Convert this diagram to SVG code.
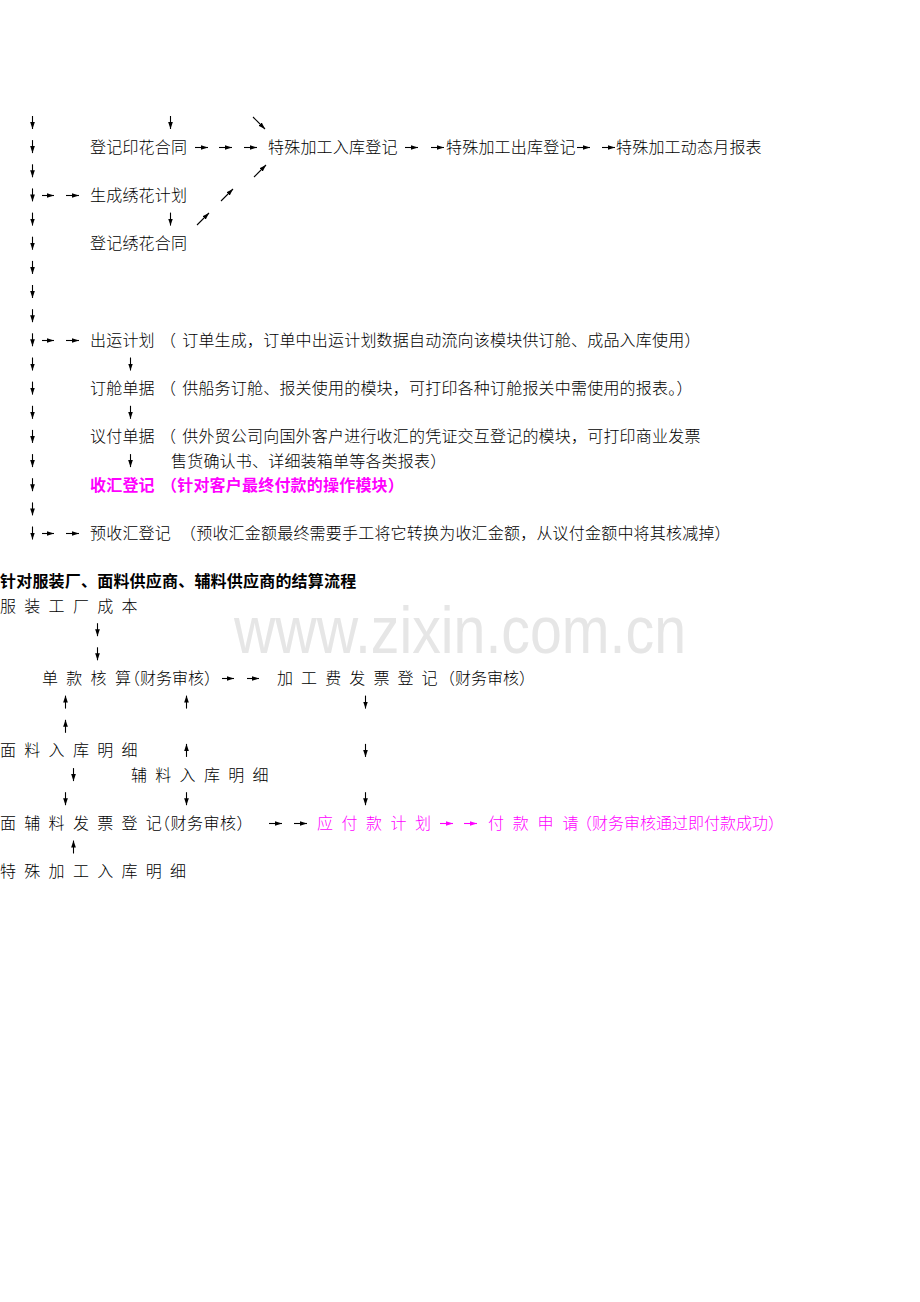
<svg xmlns="http://www.w3.org/2000/svg" width="920" height="1302" viewBox="0 0 920 1302">
<defs>
<marker id="a" viewBox="0 0 8 6" refX="8" refY="3" markerWidth="7" markerHeight="5.25" markerUnits="userSpaceOnUse" orient="auto"><path d="M0,0.3 L8,3 L0,5.7 z" fill="#000"/></marker>
<marker id="am" viewBox="0 0 8 6" refX="8" refY="3" markerWidth="7" markerHeight="5.25" markerUnits="userSpaceOnUse" orient="auto"><path d="M0,0.3 L8,3 L0,5.7 z" fill="#ff00ff"/></marker>
</defs>
<style>
text{font-family:"Noto Sans CJK SC","Noto Sans CJK TC",sans-serif;font-size:16px;fill:#000;font-weight:300}
.t{letter-spacing:0.2px}
.m{fill:#ff00ff}
.b{font-weight:bold}
.wm{font-family:"Liberation Sans",Arial,sans-serif;font-size:66px;fill:#e6e6e6;font-weight:normal}
.ar{stroke:#000;stroke-width:1.1;fill:none;marker-end:url(#a)}
.arm{stroke:#ff00ff;stroke-width:1.1;fill:none;marker-end:url(#am)}
</style>
<rect width="920" height="1302" fill="#fff"/>
<text class="wm" x="234" y="653" textLength="452" lengthAdjust="spacingAndGlyphs">www.zixin.com.cn</text>

<g id="connectors">
<path class="ar" d="M32.5,116V129"/>
<path class="ar" d="M32.5,140.1V153.1"/>
<path class="ar" d="M32.5,164.3V177.3"/>
<path class="ar" d="M32.5,188.4V201.4"/>
<path class="ar" d="M32.5,212.6V225.6"/>
<path class="ar" d="M32.5,236.7V249.7"/>
<path class="ar" d="M32.5,260.9V273.9"/>
<path class="ar" d="M32.5,285V298"/>
<path class="ar" d="M32.5,309.2V322.2"/>
<path class="ar" d="M32.5,333.3V346.3"/>
<path class="ar" d="M32.5,357.5V370.5"/>
<path class="ar" d="M32.5,381.6V394.6"/>
<path class="ar" d="M32.5,405.8V418.8"/>
<path class="ar" d="M32.5,429.9V442.9"/>
<path class="ar" d="M32.5,454.1V467.1"/>
<path class="ar" d="M32.5,478.2V491.2"/>
<path class="ar" d="M32.5,502.4V515.4"/>
<path class="ar" d="M32.5,526.5V539.5"/>
<path class="ar" d="M170.5,116V129"/>
<path class="ar" d="M170.5,212.6V225.6"/>
<path class="ar" d="M130.5,357.5V370.5"/>
<path class="ar" d="M130.5,405.8V418.8"/>
<path class="ar" d="M130.5,454.1V467.1"/>
<path class="ar" d="M253,117L265,129"/>
<path class="ar" d="M195,147.5H208"/>
<path class="ar" d="M219,147.5H232"/>
<path class="ar" d="M244,147.5H257"/>
<path class="ar" d="M405,147.5H418"/>
<path class="ar" d="M431,147.5H444"/>
<path class="ar" d="M577,147.5H590"/>
<path class="ar" d="M602,147.5H615"/>
<path class="ar" d="M254,177L266,165"/>
<path class="ar" d="M42,195.5H54"/>
<path class="ar" d="M66,195.5H79"/>
<path class="ar" d="M221,201L233,189"/>
<path class="ar" d="M197,225L209,213"/>
<path class="ar" d="M42,340.5H54"/>
<path class="ar" d="M66,340.5H79"/>
<path class="ar" d="M42,533.5H54"/>
<path class="ar" d="M66,533.5H79"/>
<path class="ar" d="M97.5,623.2V636.2"/>
<path class="ar" d="M97.5,647.3V660.3"/>
<path class="ar" d="M222,678.5H234"/>
<path class="ar" d="M247,678.5H259"/>
<path class="ar" d="M65.5,708.6V695.6"/>
<path class="ar" d="M186.5,708.6V695.6"/>
<path class="ar" d="M365.5,695.6V708.6"/>
<path class="ar" d="M65.5,732.8V719.8"/>
<path class="ar" d="M186.5,756.9V743.9"/>
<path class="ar" d="M365.5,743.9V756.9"/>
<path class="ar" d="M73.5,768.1V781.1"/>
<path class="ar" d="M65.5,792.2V805.2"/>
<path class="ar" d="M186.5,792.2V805.2"/>
<path class="ar" d="M365.5,792.2V805.2"/>
<path class="ar" d="M269,823.5H282"/>
<path class="ar" d="M294,823.5H307"/>
<path class="arm" d="M440,823.5H453"/>
<path class="arm" d="M464,823.5H477"/>
<path class="ar" d="M73.5,853.5V840.5"/>
</g>

<g id="n-yinhua-hetong"><text class="t" x="90" y="152.6">登记印花合同</text></g>
<g id="n-rukudengji"><text class="t" x="268" y="152.6">特殊加工入库登记</text></g>
<g id="n-chukudengji"><text class="t" x="446" y="152.6">特殊加工出库登记</text></g>
<g id="n-yuebaobiao"><text class="t" x="616" y="152.6">特殊加工动态月报表</text></g>
<g id="n-xiuhua-jihua"><text class="t" x="90" y="200.9">生成绣花计划</text></g>
<g id="n-xiuhua-hetong"><text class="t" x="90" y="249.2">登记绣花合同</text></g>
<g id="n-chuyun"><text class="t" x="90" y="345.8">出运计划</text><text class="t" x="160 182.2" y="345.8">（订单生成，订单中出运计划数据自动流向该模块供订舱、成品入库使用）</text></g>
<g id="n-dingcang"><text class="t" x="90" y="394.1">订舱单据</text><text class="t" x="160 182.2" y="394.1">（供船务订舱、报关使用的模块，可打印各种订舱报关中需使用的报表。）</text></g>
<g id="n-yifu"><text class="t" x="90" y="442.4">议付单据</text><text class="t" x="160 182.2" y="442.4">（供外贸公司向国外客户进行收汇的凭证交互登记的模块，可打印商业发票</text><text class="t" x="171" y="466.6">售货确认书、详细装箱单等各类报表）</text></g>
<g id="n-shouhui"><text class="t m b" x="90" y="490.7">收汇登记</text><text class="t m b" x="161" y="490.7">（针对客户最终付款的操作模块）</text></g>
<g id="n-yushouhui"><text class="t" x="90" y="539">预收汇登记</text><text class="t" x="180" y="539">（预收汇金额最终需要手工将它转换为收汇金额，从议付金额中将其核减掉）</text></g>

<g id="title"><text class="t b" x="0" y="587.4">针对服装厂、面料供应商、辅料供应商的结算流程</text></g>
<g id="n-chengben"><text x="0 16 24.3 40.3 48.6 64.6 72.9 88.9 97.2 113.2 121.5" y="611.5">服 装 工 厂 成 本</text></g>
<g id="n-dankuan"><text x="42 58 66.3 82.3 90.6 106.6 114.9 124 140 156 172 188 204" y="684">单 款 核 算（财务审核）</text></g>
<g id="n-jiagongfei"><text x="277 293 301.1 317.1 325.2 341.2 349.3 365.3 373.4 389.4 397.5 413.5 421.6 439 455 471 487 503 519" y="684">加 工 费 发 票 登 记（财务审核）</text></g>
<g id="n-mianliao"><text x="0 16 24.3 40.3 48.6 64.6 72.9 88.9 97.2 113.2 121.5" y="756.4">面 料 入 库 明 细</text></g>
<g id="n-fuliao"><text x="131 147 155.3 171.3 179.6 195.6 203.9 219.9 228.2 244.2 252.5" y="780.6">辅 料 入 库 明 细</text></g>
<g id="n-fapiao"><text x="0 16 24.3 40.3 48.6 64.6 72.9 88.9 97.2 113.2 121.5 137.5 145.8 154 170.5 187 203.5 220 236.5" y="829">面 辅 料 发 票 登 记（财务审核）</text></g>
<g id="n-yingfu"><text class="m" x="317 333 341.5 357.5 366 382 390.5 406.5 415" y="829">应 付 款 计 划</text></g>
<g id="n-fukuan"><text class="m" x="488 504 512.8 528.8 537.6 553.6 562.4 576 592 608 624 640 656 672 688 704 720 736 752 768" y="829">付 款 申 请（财务审核通过即付款成功）</text></g>
<g id="n-teshu"><text x="0 16 24.3 40.3 48.6 64.6 72.9 88.9 97.2 113.2 121.5 137.5 145.8 161.8 170.1" y="877.2">特 殊 加 工 入 库 明 细</text></g>
</svg>
